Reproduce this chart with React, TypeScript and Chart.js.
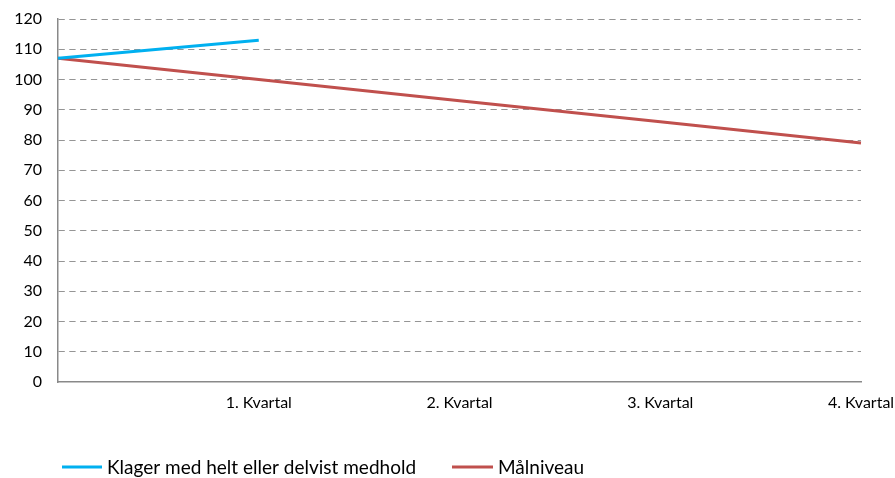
import React, { useEffect, useRef } from "react";
import { Chart, registerables } from "chart.js";

Chart.register(...registerables);

const categories = ["", "1. Kvartal", "2. Kvartal", "3. Kvartal", "4. Kvartal"];
const klagerValues: (number | null)[] = [107, 113, null, null, null];
const maalValues: number[] = [107, 100, 93, 86, 79];
const seriesNames = ["Klager med helt eller delvist medhold", "Målniveau"];
const seriesColors = ["#00B0F0", "#C0504D"];

const FONT = "Lato, 'Open Sans', sans-serif";

const legendPlugin = {
  id: "customLegend",
  afterDraw(chart: any) {
    const ctx = chart.ctx;
    const items = [
      { x1: 62, x2: 102, tx: 107 },
      { x1: 452, x2: 493, tx: 498 },
    ];
    const y = 467;
    ctx.save();
    ctx.font = `19px ${FONT}`;
    ctx.textBaseline = "middle";
    ctx.textAlign = "left";
    items.forEach((it, i) => {
      ctx.strokeStyle = seriesColors[i];
      ctx.lineWidth = 3;
      ctx.beginPath();
      ctx.moveTo(it.x1, y);
      ctx.lineTo(it.x2, y);
      ctx.stroke();
      ctx.fillStyle = "#000";
      ctx.fillText(seriesNames[i], it.tx, y + 1);
    });
    ctx.restore();
  },
};

export default function App() {
  const ref = useRef<HTMLCanvasElement | null>(null);
  useEffect(() => {
    if (!ref.current) return;
    const chart = new Chart(ref.current, {
      type: "line",
      data: {
        labels: categories,
        datasets: [
          {
            label: seriesNames[0],
            data: klagerValues,
            borderColor: seriesColors[0],
            backgroundColor: seriesColors[0],
            borderWidth: 3,
            pointRadius: 0,
            tension: 0,
            spanGaps: false,
          },
          {
            label: seriesNames[1],
            data: maalValues,
            borderColor: seriesColors[1],
            backgroundColor: seriesColors[1],
            borderWidth: 3,
            pointRadius: 0,
            tension: 0,
          },
        ],
      },
      options: {
        responsive: false,
        animation: false,
        devicePixelRatio: 1,
        layout: { padding: { left: 0, right: 34, top: 19, bottom: 0 } },
        plugins: {
          legend: { display: false },
          tooltip: { enabled: false },
        },
        scales: {
          x: {
            offset: false,
            grid: { display: false, drawTicks: false },
            border: { display: true, color: "#898989", width: 1.5 },
            ticks: {
              padding: 11,
              color: "#000",
              font: { family: FONT, size: 16 },
              maxRotation: 0,
              autoSkip: false,
            },
            afterFit(scale: any) {
              scale.height = 96;
              scale.paddingLeft = 0;
              scale.paddingRight = 0;
            },
          },
          y: {
            min: 0,
            max: 120,
            grid: {
              drawTicks: false,
              color: (c: any) => (c.tick && c.tick.value === 0 ? "rgba(0,0,0,0)" : "#959595"),
              lineWidth: 1,
            },
            border: { display: true, color: "#898989", width: 1.5, dash: [6.3, 4.5] },
            ticks: {
              stepSize: 10,
              padding: 16,
              color: "#000",
              font: { family: FONT, size: 16 },
            },
            afterFit(scale: any) {
              scale.width = 58;
              scale.paddingTop = 0;
              scale.paddingBottom = 0;
            },
          },
        },
      },
      plugins: [legendPlugin],
    } as any);
    return () => chart.destroy();
  }, []);
  return (
    <div style={{ position: "fixed", left: 0, top: 0, width: 895, height: 478, background: "#fff" }}>
      <canvas ref={ref} width={895} height={478} />
    </div>
  );
}
